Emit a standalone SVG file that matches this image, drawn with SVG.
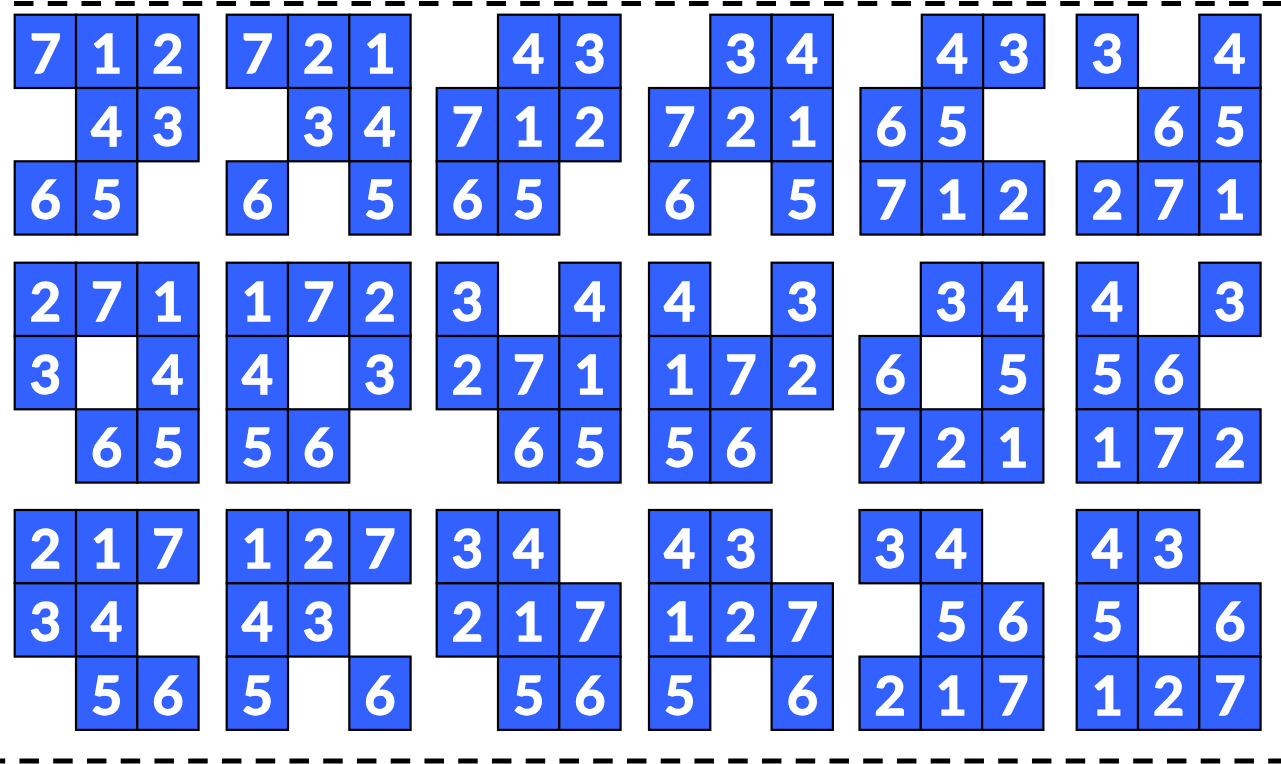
<svg xmlns="http://www.w3.org/2000/svg" width="1281" height="764" viewBox="0 0 1281 764">
<style>
.c{fill:#3361FF;stroke:#000;stroke-width:2.2}
.t{fill:#fff;stroke:#fff;stroke-width:1.3;font-family:Lato,"Open Sans","Liberation Sans",sans-serif;font-weight:700;font-size:54px;text-anchor:middle}
.d{stroke:#000;stroke-width:5;stroke-dasharray:19.5 14.25;fill:none}
</style>
<rect width="1281" height="764" fill="#fff"/>
<g id="borders">
<line class="d" x1="14" y1="3.5" x2="1290" y2="3.5"/>
<line class="d" x1="-14.3" y1="761" x2="1290" y2="761"/>
</g>
<!-- Row 1 -->
<g id="p1" transform="translate(14.7,14.7)">
<rect class="c" x="0" y="0" width="61.3" height="73.3"/><text class="t" x="30.7" y="58">7</text>
<rect class="c" x="61.3" y="0" width="61.3" height="73.3"/><text class="t" x="92" y="58">1</text>
<rect class="c" x="122.6" y="0" width="61.3" height="73.3"/><text class="t" x="153.3" y="58">2</text>
<rect class="c" x="61.3" y="73.3" width="61.3" height="73.3"/><text class="t" x="92" y="131.3">4</text>
<rect class="c" x="122.6" y="73.3" width="61.3" height="73.3"/><text class="t" x="153.3" y="131.3">3</text>
<rect class="c" x="0" y="146.6" width="61.3" height="73.3"/><text class="t" x="30.7" y="204.6">6</text>
<rect class="c" x="61.3" y="146.6" width="61.3" height="73.3"/><text class="t" x="92" y="204.6">5</text>
</g>
<g id="p2" transform="translate(226.7,14.7)">
<rect class="c" x="0" y="0" width="61.3" height="73.3"/><text class="t" x="30.7" y="58">7</text>
<rect class="c" x="61.3" y="0" width="61.3" height="73.3"/><text class="t" x="92" y="58">2</text>
<rect class="c" x="122.6" y="0" width="61.3" height="73.3"/><text class="t" x="153.3" y="58">1</text>
<rect class="c" x="61.3" y="73.3" width="61.3" height="73.3"/><text class="t" x="92" y="131.3">3</text>
<rect class="c" x="122.6" y="73.3" width="61.3" height="73.3"/><text class="t" x="153.3" y="131.3">4</text>
<rect class="c" x="0" y="146.6" width="61.3" height="73.3"/><text class="t" x="30.7" y="204.6">6</text>
<rect class="c" x="122.6" y="146.6" width="61.3" height="73.3"/><text class="t" x="153.3" y="204.6">5</text>
</g>
<g id="p3" transform="translate(436.7,14.7)">
<rect class="c" x="61.3" y="0" width="61.3" height="73.3"/><text class="t" x="92" y="58">4</text>
<rect class="c" x="122.6" y="0" width="61.3" height="73.3"/><text class="t" x="153.3" y="58">3</text>
<rect class="c" x="0" y="73.3" width="61.3" height="73.3"/><text class="t" x="30.7" y="131.3">7</text>
<rect class="c" x="61.3" y="73.3" width="61.3" height="73.3"/><text class="t" x="92" y="131.3">1</text>
<rect class="c" x="122.6" y="73.3" width="61.3" height="73.3"/><text class="t" x="153.3" y="131.3">2</text>
<rect class="c" x="0" y="146.6" width="61.3" height="73.3"/><text class="t" x="30.7" y="204.6">6</text>
<rect class="c" x="61.3" y="146.6" width="61.3" height="73.3"/><text class="t" x="92" y="204.6">5</text>
</g>
<g id="p4" transform="translate(649,14.7)">
<rect class="c" x="61.3" y="0" width="61.3" height="73.3"/><text class="t" x="92" y="58">3</text>
<rect class="c" x="122.6" y="0" width="61.3" height="73.3"/><text class="t" x="153.3" y="58">4</text>
<rect class="c" x="0" y="73.3" width="61.3" height="73.3"/><text class="t" x="30.7" y="131.3">7</text>
<rect class="c" x="61.3" y="73.3" width="61.3" height="73.3"/><text class="t" x="92" y="131.3">2</text>
<rect class="c" x="122.6" y="73.3" width="61.3" height="73.3"/><text class="t" x="153.3" y="131.3">1</text>
<rect class="c" x="0" y="146.6" width="61.3" height="73.3"/><text class="t" x="30.7" y="204.6">6</text>
<rect class="c" x="122.6" y="146.6" width="61.3" height="73.3"/><text class="t" x="153.3" y="204.6">5</text>
</g>
<g id="p5" transform="translate(860.5,14.7)">
<rect class="c" x="61.3" y="0" width="61.3" height="73.3"/><text class="t" x="92" y="58">4</text>
<rect class="c" x="122.6" y="0" width="61.3" height="73.3"/><text class="t" x="153.3" y="58">3</text>
<rect class="c" x="0" y="73.3" width="61.3" height="73.3"/><text class="t" x="30.7" y="131.3">6</text>
<rect class="c" x="61.3" y="73.3" width="61.3" height="73.3"/><text class="t" x="92" y="131.3">5</text>
<rect class="c" x="0" y="146.6" width="61.3" height="73.3"/><text class="t" x="30.7" y="204.6">7</text>
<rect class="c" x="61.3" y="146.6" width="61.3" height="73.3"/><text class="t" x="92" y="204.6">1</text>
<rect class="c" x="122.6" y="146.6" width="61.3" height="73.3"/><text class="t" x="153.3" y="204.6">2</text>
</g>
<g id="p6" transform="translate(1076.7,14.7)">
<rect class="c" x="0" y="0" width="61.3" height="73.3"/><text class="t" x="30.7" y="58">3</text>
<rect class="c" x="122.6" y="0" width="61.3" height="73.3"/><text class="t" x="153.3" y="58">4</text>
<rect class="c" x="61.3" y="73.3" width="61.3" height="73.3"/><text class="t" x="92" y="131.3">6</text>
<rect class="c" x="122.6" y="73.3" width="61.3" height="73.3"/><text class="t" x="153.3" y="131.3">5</text>
<rect class="c" x="0" y="146.6" width="61.3" height="73.3"/><text class="t" x="30.7" y="204.6">2</text>
<rect class="c" x="61.3" y="146.6" width="61.3" height="73.3"/><text class="t" x="92" y="204.6">7</text>
<rect class="c" x="122.6" y="146.6" width="61.3" height="73.3"/><text class="t" x="153.3" y="204.6">1</text>
</g>
<!-- Row 2 -->
<g id="p7" transform="translate(14.7,262.7)">
<rect class="c" x="0" y="0" width="61.3" height="73.3"/><text class="t" x="30.7" y="58">2</text>
<rect class="c" x="61.3" y="0" width="61.3" height="73.3"/><text class="t" x="92" y="58">7</text>
<rect class="c" x="122.6" y="0" width="61.3" height="73.3"/><text class="t" x="153.3" y="58">1</text>
<rect class="c" x="0" y="73.3" width="61.3" height="73.3"/><text class="t" x="30.7" y="131.3">3</text>
<rect class="c" x="122.6" y="73.3" width="61.3" height="73.3"/><text class="t" x="153.3" y="131.3">4</text>
<rect class="c" x="61.3" y="146.6" width="61.3" height="73.3"/><text class="t" x="92" y="204.6">6</text>
<rect class="c" x="122.6" y="146.6" width="61.3" height="73.3"/><text class="t" x="153.3" y="204.6">5</text>
</g>
<g id="p8" transform="translate(226.7,262.7)">
<rect class="c" x="0" y="0" width="61.3" height="73.3"/><text class="t" x="30.7" y="58">1</text>
<rect class="c" x="61.3" y="0" width="61.3" height="73.3"/><text class="t" x="92" y="58">7</text>
<rect class="c" x="122.6" y="0" width="61.3" height="73.3"/><text class="t" x="153.3" y="58">2</text>
<rect class="c" x="0" y="73.3" width="61.3" height="73.3"/><text class="t" x="30.7" y="131.3">4</text>
<rect class="c" x="122.6" y="73.3" width="61.3" height="73.3"/><text class="t" x="153.3" y="131.3">3</text>
<rect class="c" x="0" y="146.6" width="61.3" height="73.3"/><text class="t" x="30.7" y="204.6">5</text>
<rect class="c" x="61.3" y="146.6" width="61.3" height="73.3"/><text class="t" x="92" y="204.6">6</text>
</g>
<g id="p9" transform="translate(436.7,262.7)">
<rect class="c" x="0" y="0" width="61.3" height="73.3"/><text class="t" x="30.7" y="58">3</text>
<rect class="c" x="122.6" y="0" width="61.3" height="73.3"/><text class="t" x="153.3" y="58">4</text>
<rect class="c" x="0" y="73.3" width="61.3" height="73.3"/><text class="t" x="30.7" y="131.3">2</text>
<rect class="c" x="61.3" y="73.3" width="61.3" height="73.3"/><text class="t" x="92" y="131.3">7</text>
<rect class="c" x="122.6" y="73.3" width="61.3" height="73.3"/><text class="t" x="153.3" y="131.3">1</text>
<rect class="c" x="61.3" y="146.6" width="61.3" height="73.3"/><text class="t" x="92" y="204.6">6</text>
<rect class="c" x="122.6" y="146.6" width="61.3" height="73.3"/><text class="t" x="153.3" y="204.6">5</text>
</g>
<g id="p10" transform="translate(649,262.7)">
<rect class="c" x="0" y="0" width="61.3" height="73.3"/><text class="t" x="30.7" y="58">4</text>
<rect class="c" x="122.6" y="0" width="61.3" height="73.3"/><text class="t" x="153.3" y="58">3</text>
<rect class="c" x="0" y="73.3" width="61.3" height="73.3"/><text class="t" x="30.7" y="131.3">1</text>
<rect class="c" x="61.3" y="73.3" width="61.3" height="73.3"/><text class="t" x="92" y="131.3">7</text>
<rect class="c" x="122.6" y="73.3" width="61.3" height="73.3"/><text class="t" x="153.3" y="131.3">2</text>
<rect class="c" x="0" y="146.6" width="61.3" height="73.3"/><text class="t" x="30.7" y="204.6">5</text>
<rect class="c" x="61.3" y="146.6" width="61.3" height="73.3"/><text class="t" x="92" y="204.6">6</text>
</g>
<g id="p11" transform="translate(859.5,262.7)">
<rect class="c" x="61.3" y="0" width="61.3" height="73.3"/><text class="t" x="92" y="58">3</text>
<rect class="c" x="122.6" y="0" width="61.3" height="73.3"/><text class="t" x="153.3" y="58">4</text>
<rect class="c" x="0" y="73.3" width="61.3" height="73.3"/><text class="t" x="30.7" y="131.3">6</text>
<rect class="c" x="122.6" y="73.3" width="61.3" height="73.3"/><text class="t" x="153.3" y="131.3">5</text>
<rect class="c" x="0" y="146.6" width="61.3" height="73.3"/><text class="t" x="30.7" y="204.6">7</text>
<rect class="c" x="61.3" y="146.6" width="61.3" height="73.3"/><text class="t" x="92" y="204.6">2</text>
<rect class="c" x="122.6" y="146.6" width="61.3" height="73.3"/><text class="t" x="153.3" y="204.6">1</text>
</g>
<g id="p12" transform="translate(1076.7,262.7)">
<rect class="c" x="0" y="0" width="61.3" height="73.3"/><text class="t" x="30.7" y="58">4</text>
<rect class="c" x="122.6" y="0" width="61.3" height="73.3"/><text class="t" x="153.3" y="58">3</text>
<rect class="c" x="0" y="73.3" width="61.3" height="73.3"/><text class="t" x="30.7" y="131.3">5</text>
<rect class="c" x="61.3" y="73.3" width="61.3" height="73.3"/><text class="t" x="92" y="131.3">6</text>
<rect class="c" x="0" y="146.6" width="61.3" height="73.3"/><text class="t" x="30.7" y="204.6">1</text>
<rect class="c" x="61.3" y="146.6" width="61.3" height="73.3"/><text class="t" x="92" y="204.6">7</text>
<rect class="c" x="122.6" y="146.6" width="61.3" height="73.3"/><text class="t" x="153.3" y="204.6">2</text>
</g>
<!-- Row 3 -->
<g id="p13" transform="translate(14.7,510)">
<rect class="c" x="0" y="0" width="61.3" height="73.3"/><text class="t" x="30.7" y="58">2</text>
<rect class="c" x="61.3" y="0" width="61.3" height="73.3"/><text class="t" x="92" y="58">1</text>
<rect class="c" x="122.6" y="0" width="61.3" height="73.3"/><text class="t" x="153.3" y="58">7</text>
<rect class="c" x="0" y="73.3" width="61.3" height="73.3"/><text class="t" x="30.7" y="131.3">3</text>
<rect class="c" x="61.3" y="73.3" width="61.3" height="73.3"/><text class="t" x="92" y="131.3">4</text>
<rect class="c" x="61.3" y="146.6" width="61.3" height="73.3"/><text class="t" x="92" y="204.6">5</text>
<rect class="c" x="122.6" y="146.6" width="61.3" height="73.3"/><text class="t" x="153.3" y="204.6">6</text>
</g>
<g id="p14" transform="translate(226.7,510)">
<rect class="c" x="0" y="0" width="61.3" height="73.3"/><text class="t" x="30.7" y="58">1</text>
<rect class="c" x="61.3" y="0" width="61.3" height="73.3"/><text class="t" x="92" y="58">2</text>
<rect class="c" x="122.6" y="0" width="61.3" height="73.3"/><text class="t" x="153.3" y="58">7</text>
<rect class="c" x="0" y="73.3" width="61.3" height="73.3"/><text class="t" x="30.7" y="131.3">4</text>
<rect class="c" x="61.3" y="73.3" width="61.3" height="73.3"/><text class="t" x="92" y="131.3">3</text>
<rect class="c" x="0" y="146.6" width="61.3" height="73.3"/><text class="t" x="30.7" y="204.6">5</text>
<rect class="c" x="122.6" y="146.6" width="61.3" height="73.3"/><text class="t" x="153.3" y="204.6">6</text>
</g>
<g id="p15" transform="translate(436.7,510)">
<rect class="c" x="0" y="0" width="61.3" height="73.3"/><text class="t" x="30.7" y="58">3</text>
<rect class="c" x="61.3" y="0" width="61.3" height="73.3"/><text class="t" x="92" y="58">4</text>
<rect class="c" x="0" y="73.3" width="61.3" height="73.3"/><text class="t" x="30.7" y="131.3">2</text>
<rect class="c" x="61.3" y="73.3" width="61.3" height="73.3"/><text class="t" x="92" y="131.3">1</text>
<rect class="c" x="122.6" y="73.3" width="61.3" height="73.3"/><text class="t" x="153.3" y="131.3">7</text>
<rect class="c" x="61.3" y="146.6" width="61.3" height="73.3"/><text class="t" x="92" y="204.6">5</text>
<rect class="c" x="122.6" y="146.6" width="61.3" height="73.3"/><text class="t" x="153.3" y="204.6">6</text>
</g>
<g id="p16" transform="translate(649,510)">
<rect class="c" x="0" y="0" width="61.3" height="73.3"/><text class="t" x="30.7" y="58">4</text>
<rect class="c" x="61.3" y="0" width="61.3" height="73.3"/><text class="t" x="92" y="58">3</text>
<rect class="c" x="0" y="73.3" width="61.3" height="73.3"/><text class="t" x="30.7" y="131.3">1</text>
<rect class="c" x="61.3" y="73.3" width="61.3" height="73.3"/><text class="t" x="92" y="131.3">2</text>
<rect class="c" x="122.6" y="73.3" width="61.3" height="73.3"/><text class="t" x="153.3" y="131.3">7</text>
<rect class="c" x="0" y="146.6" width="61.3" height="73.3"/><text class="t" x="30.7" y="204.6">5</text>
<rect class="c" x="122.6" y="146.6" width="61.3" height="73.3"/><text class="t" x="153.3" y="204.6">6</text>
</g>
<g id="p17" transform="translate(859.5,510)">
<rect class="c" x="0" y="0" width="61.3" height="73.3"/><text class="t" x="30.7" y="58">3</text>
<rect class="c" x="61.3" y="0" width="61.3" height="73.3"/><text class="t" x="92" y="58">4</text>
<rect class="c" x="61.3" y="73.3" width="61.3" height="73.3"/><text class="t" x="92" y="131.3">5</text>
<rect class="c" x="122.6" y="73.3" width="61.3" height="73.3"/><text class="t" x="153.3" y="131.3">6</text>
<rect class="c" x="0" y="146.6" width="61.3" height="73.3"/><text class="t" x="30.7" y="204.6">2</text>
<rect class="c" x="61.3" y="146.6" width="61.3" height="73.3"/><text class="t" x="92" y="204.6">1</text>
<rect class="c" x="122.6" y="146.6" width="61.3" height="73.3"/><text class="t" x="153.3" y="204.6">7</text>
</g>
<g id="p18" transform="translate(1076.7,510)">
<rect class="c" x="0" y="0" width="61.3" height="73.3"/><text class="t" x="30.7" y="58">4</text>
<rect class="c" x="61.3" y="0" width="61.3" height="73.3"/><text class="t" x="92" y="58">3</text>
<rect class="c" x="0" y="73.3" width="61.3" height="73.3"/><text class="t" x="30.7" y="131.3">5</text>
<rect class="c" x="122.6" y="73.3" width="61.3" height="73.3"/><text class="t" x="153.3" y="131.3">6</text>
<rect class="c" x="0" y="146.6" width="61.3" height="73.3"/><text class="t" x="30.7" y="204.6">1</text>
<rect class="c" x="61.3" y="146.6" width="61.3" height="73.3"/><text class="t" x="92" y="204.6">2</text>
<rect class="c" x="122.6" y="146.6" width="61.3" height="73.3"/><text class="t" x="153.3" y="204.6">7</text>
</g>
</svg>
